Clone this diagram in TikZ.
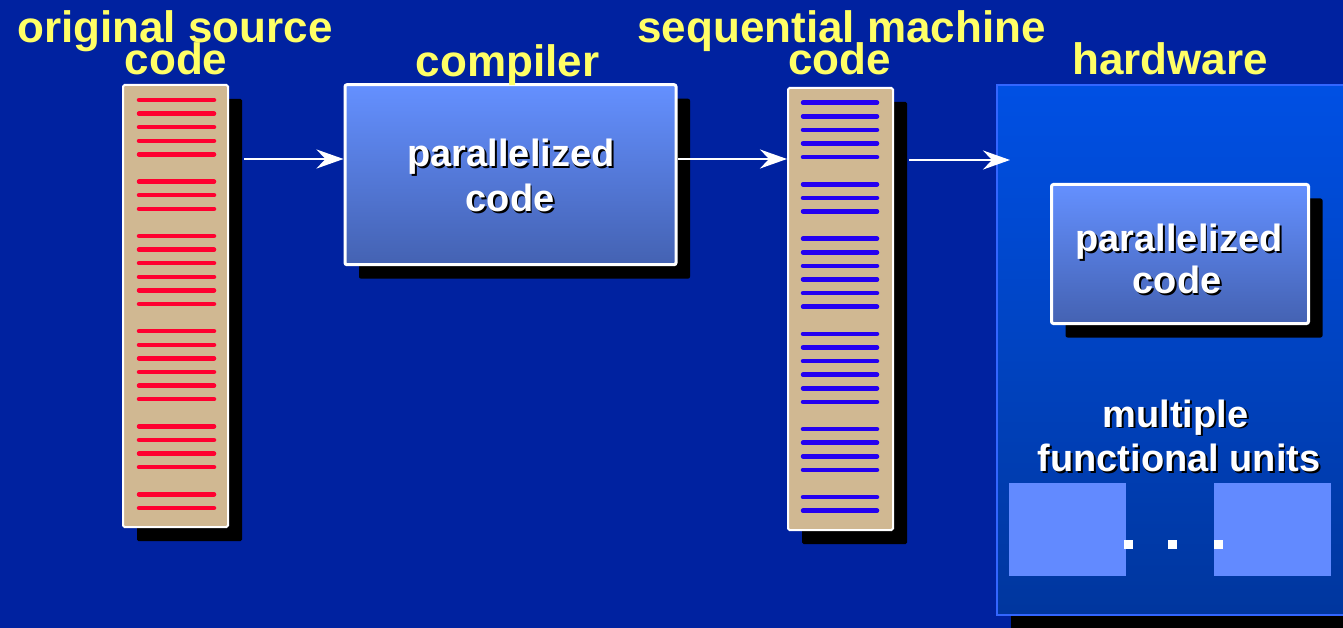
\documentclass[tikz,border=0pt]{standalone}
\usepackage{fontspec}
\setmainfont{Liberation Sans}
\usetikzlibrary{arrows.meta,shadows}

\definecolor{bgblue}{RGB}{0,34,160}
\definecolor{paper}{RGB}{208,184,146}
\definecolor{srcred}{RGB}{255,0,48}
\definecolor{machblue}{RGB}{36,0,240}
\definecolor{titleyellow}{RGB}{255,255,102}
\definecolor{boxtop}{RGB}{100,144,255}
\definecolor{boxbot}{RGB}{68,98,178}
\definecolor{hwtop}{RGB}{0,80,228}
\definecolor{hwbot}{RGB}{0,54,158}
\definecolor{hwedge}{RGB}{51,102,255}
\definecolor{unitfill}{RGB}{98,138,255}

% white lettering with a small dark offset copy behind it
\newcommand\embossed[1]{\makebox[0pt][l]{\hspace{1.8pt}\raisebox{-1.8pt}{\textcolor{black}{#1}}}#1}

\tikzset{
  blackshadow/.style={drop shadow={shadow xshift=14pt,shadow yshift=-14pt,fill=black,opacity=1}},
  listing/.style={draw=white,line width=2pt,fill=paper,rounded corners=1.5pt,blackshadow,
                  minimum width=105pt,minimum height=442pt,inner sep=0pt},
  codebox/.style={draw=white,line width=3pt,top color=boxtop,bottom color=boxbot,
                  rounded corners=2pt,blackshadow,inner sep=0pt},
  title/.style={text=titleyellow,font=\fontsize{44}{44}\selectfont\bfseries,anchor=base,inner sep=0pt},
  wtext/.style={text=white,font=\fontsize{38}{38}\selectfont\bfseries,anchor=base,inner sep=0pt},
  srcline/.style={draw=srcred,line width=4.5pt,line cap=round},
  machline/.style={draw=machblue,line width=4.5pt,line cap=round},
  flow/.style={draw=white,line width=2.5pt,-{Stealth[length=27pt,width=19pt,inset=9pt]}},
  unit/.style={fill=unitfill,draw=none,minimum width=117pt,minimum height=93pt,inner sep=0pt},
  dot/.style={fill=white,draw=none,minimum size=9pt,inner sep=0pt}
}

\begin{document}
\begin{tikzpicture}[x=1pt,y=-1pt]
  \useasboundingbox (0,0) rectangle (1343,628);
  \fill[bgblue] (0,0) rectangle (1343,628);

  % hardware frame (runs past the right edge)
  \node[draw=hwedge,line width=2pt,top color=hwtop,bottom color=hwbot,blackshadow,
        minimum width=364pt,minimum height=530pt,inner sep=0pt] (hw) at (1179,350) {};

  % source listing
  \node[listing] (src) at (175.5,306) {};
  \foreach \k in {0,1,2,3,4,6,7,8,10,11,12,13,14,15,17,18,19,20,21,22,24,25,26,27,29,30}
    \draw[srcline] (139,{100+13.6*\k}) -- (214,{100+13.6*\k});

  % compiler
  \node[codebox,minimum width=331pt,minimum height=180pt] (comp) at (510.5,174.7) {};
  \node[wtext] (comp1) at (511,166.7) {\embossed{parallelized}};
  \node[wtext] (comp2) at (510,211.7) {\embossed{code}};

  % sequential machine code listing
  \node[listing] (mach) at (840.5,309) {};
  \foreach \k in {0,1,2,3,4,6,7,8,10,11,12,13,14,15,17,18,19,20,21,22,24,25,26,27,29,30}
    \draw[machline] (803,{102.7+13.6*\k}) -- (877,{102.7+13.6*\k});

  % parallelized code inside the hardware
  \node[codebox,minimum width=257pt,minimum height=139pt] (par) at (1180,254) {};
  \node[wtext] (par1) at (1179,251.7) {\embossed{parallelized}};
  \node[wtext] (par2) at (1177,293.3) {\embossed{code}};

  \node[wtext] (fu1) at (1175.5,427) {\embossed{multiple}};
  \node[wtext] (fu2) at (1179,471.7) {\embossed{functional units}};

  % functional units
  \node[unit] (u1) at (1067,529) {};
  \node[unit] (u2) at (1272.5,529) {};
  \node[dot] (d1) at (1128,544.5) {};
  \node[dot] (d2) at (1172.5,544.5) {};
  \node[dot] (d3) at (1218.5,544.5) {};

  % titles
  \node[title] (t1a) at (175,43) {original source};
  \node[title] (t1b) at (176,75) {code};
  \node[title] (t2) at (507.5,76.7) {compiler};
  \node[title] (t3a) at (841.5,43) {sequential machine};
  \node[title] (t3b) at (839.5,75) {code};
  \node[title] (t4) at (1170,75) {hardware};

  % flow arrows
  \coordinate (a1) at (244,159);
  \coordinate (a3) at (909,160);
  \coordinate (a3e) at (1010,160);
  \draw[flow] (a1) -- (comp.west |- a1);
  \draw[flow] (comp.east |- a1) -- (mach.west |- a1);
  \draw[flow] (a3) -- (a3e);
\end{tikzpicture}
\end{document}
